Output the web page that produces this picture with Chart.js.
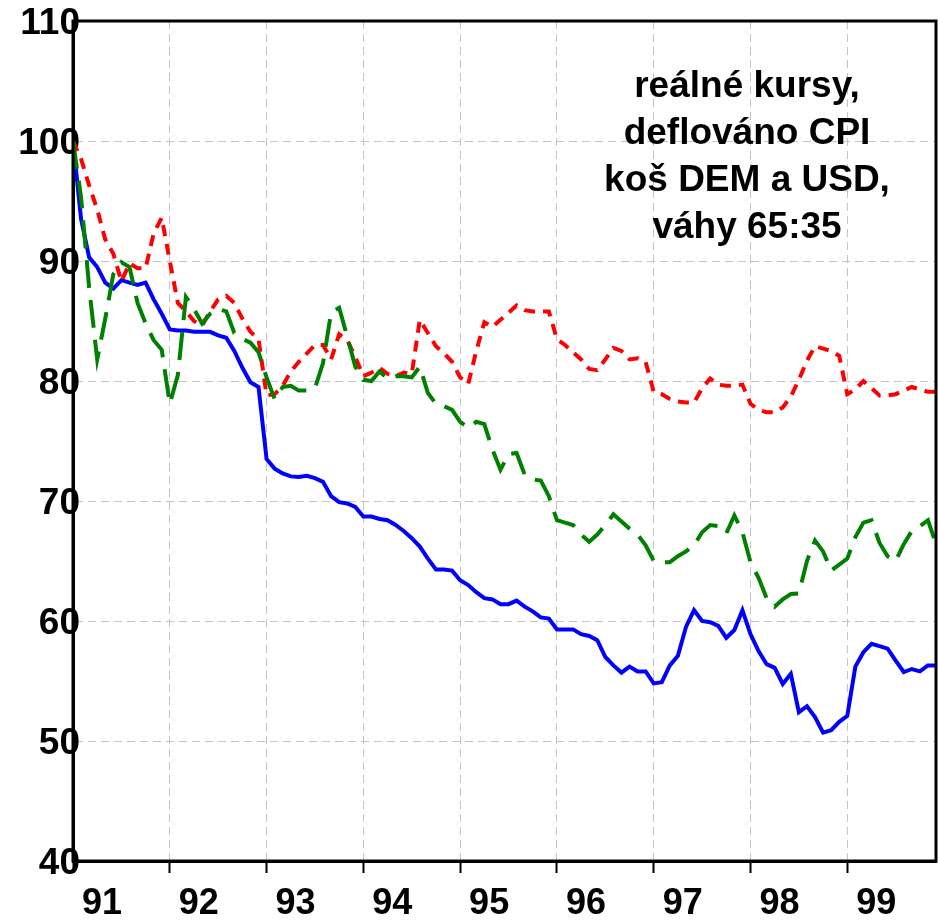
<!DOCTYPE html>
<html>
<head>
<meta charset="utf-8">
<title>Reálné kursy</title>
<script src="https://cdn.jsdelivr.net/npm/chart.js@4/dist/chart.umd.min.js"></script>
<style>
    html, body { margin: 0; padding: 0; background: #fff; }
    #myChart { display: block; }
</style>
</head>
<body>
<canvas id="myChart" width="938" height="924"></canvas>
<script>
// one value per month, Jan 1991 .. Dec 1999
const yearLabels = ["91", "92", "93", "94", "95", "96", "97", "98", "99"];

const blueValues = [
    100, 93.5, 90.3, 89.5, 88.2, 87.7, 88.4, 88.2, 88.0, 88.2, 86.8, 85.6,
    84.3, 84.2, 84.2, 84.1, 84.1, 84.1, 83.8, 83.6, 82.5, 81.1, 79.9, 79.5,
    73.5, 72.7, 72.3, 72.05, 72.0, 72.1, 71.9, 71.6, 70.4, 69.9, 69.8, 69.5,
    68.7, 68.7, 68.5, 68.4, 68.0, 67.5, 66.9, 66.2, 65.2, 64.3, 64.3, 64.2,
    63.4, 63.0, 62.4, 61.9, 61.8, 61.4, 61.4, 61.7, 61.2, 60.8, 60.3, 60.2,
    59.3, 59.3, 59.3, 58.9, 58.75, 58.4, 57.0, 56.3, 55.7, 56.2, 55.8, 55.8,
    54.8, 54.9, 56.3, 57.1, 59.5, 60.9, 60.0, 59.9, 59.6, 58.6, 59.25, 60.9,
    58.9, 57.5, 56.4, 56.1, 54.75, 55.6, 52.4, 52.9, 52.0, 50.7, 50.9, 51.6,
    52.1, 56.2, 57.4, 58.1, 57.9, 57.7, 56.7, 55.75, 56.0, 55.8, 56.3, 56.3
];

const redValues = [
    100, 98.5, 96.3, 94.3, 91.8, 90.6, 88.3, 89.8, 89.4, 89.4, 92.3, 93.6,
    90.0, 86.5, 85.8, 85.0, 84.6, 85.8, 86.8, 87.1, 86.5, 85.2, 84.1, 83.5,
    78.8, 78.9, 79.6, 80.8, 81.6, 82.3, 83.0, 83.0, 81.8, 83.9, 83.4, 82.0,
    80.4, 80.7, 81.1, 80.6, 80.4, 80.7, 80.6, 85.1, 84.0, 82.9, 82.3, 81.6,
    80.3, 79.75, 82.5, 84.9, 84.5, 85.1, 85.7, 86.3, 85.9, 85.8, 85.8, 85.8,
    83.5, 83.0, 82.4, 81.8, 81.0, 80.9, 81.8, 82.75, 82.5, 81.8, 81.9, 81.6,
    79.1, 78.9, 78.5, 78.3, 78.2, 78.2, 79.4, 80.2, 79.7, 79.6, 79.6, 79.7,
    78.1, 77.6, 77.4, 77.4, 77.8, 78.7, 80.1, 81.7, 82.9, 82.7, 82.5, 82.1,
    78.9, 79.3, 80.0, 79.4, 78.8, 78.8, 78.9, 79.2, 79.5, 79.3, 79.1, 79.1
];

const greenValues = [
    100, 95.3, 87.8, 81.8, 85.2, 88.9, 89.9, 89.5, 86.5, 84.8, 83.4, 82.6,
    78.1, 80.5, 87.0, 86.0, 84.8, 85.6, 86.0, 85.8, 84.0, 83.5, 83.2, 82.4,
    80.3, 78.5, 79.5, 79.6, 79.2, 79.2, 79.4, 81.5, 85.7, 86.1, 83.7, 81.2,
    80.1, 80.0, 80.8, 80.2, 80.4, 80.4, 80.3, 81.2, 79.0, 78.1, 77.9, 77.6,
    76.6, 76.1, 76.6, 76.4, 74.3, 72.6, 73.9, 74.0, 72.2, 71.8, 71.7, 70.4,
    68.4, 68.2, 68.0, 67.2, 66.6, 67.2, 68.0, 68.9, 68.3, 67.7, 67.2, 66.3,
    65.0, 64.9, 64.9, 65.4, 65.8, 66.3, 67.4, 68.0, 67.9, 67.3, 68.8, 67.4,
    64.9, 63.6, 61.9, 61.2, 61.8, 62.25, 62.3, 65.0, 66.7, 65.8, 64.2, 64.7,
    65.2, 67.0, 68.2, 68.4, 66.5, 65.4, 65.0, 66.4, 67.5, 67.9, 68.4, 66.4
];

const noteLines = ["reálné kursy,", "deflováno CPI", "koš DEM a USD,", "váhy 65:35"];

Chart.defaults.font.family = '"Liberation Sans", Arial, sans-serif';
Chart.defaults.color = "#000";

function toPoints(values) {
    return values.map(function (v, i) {
        return { x: i, y: v };
    });
}

// black frame round the plot and the text note in the upper right
const framePlugin = {
    id: "frame",
    afterDatasetsDraw: function (chart) {
        const ctx = chart.ctx;
        const a = chart.chartArea;
        ctx.save();
        ctx.strokeStyle = "#000";
        ctx.lineWidth = 3;
        ctx.setLineDash([]);
        ctx.strokeRect(a.left, a.top, a.right - a.left, a.bottom - a.top);

        ctx.font = 'bold 37px "Liberation Sans", Arial, sans-serif';
        ctx.fillStyle = "#000";
        ctx.textAlign = "center";
        ctx.textBaseline = "alphabetic";
        noteLines.forEach(function (line, i) {
            ctx.fillText(line, 747, 97 + i * 47);
        });
        ctx.restore();
    }
};

new Chart("myChart", {
    type: "line",
    data: {
        datasets: [
            {
                data: toPoints(greenValues),
                borderColor: "#008000",
                borderWidth: 4,
                borderDash: [28, 12],
                pointRadius: 0,
                tension: 0
            },
            {
                data: toPoints(redValues),
                borderColor: "#ff0000",
                borderWidth: 4,
                borderDash: [11, 8],
                pointRadius: 0,
                tension: 0
            },
            {
                data: toPoints(blueValues),
                borderColor: "#0000ff",
                borderWidth: 4,
                pointRadius: 0,
                tension: 0
            }
        ]
    },
    options: {
        responsive: false,
        animation: false,
        devicePixelRatio: 1,
        layout: {
            padding: { top: 21, right: 2, left: 0, bottom: 0 }
        },
        plugins: {
            legend: { display: false },
            tooltip: { enabled: false }
        },
        scales: {
            x: {
                type: "linear",
                min: 0,
                max: 107,
                afterFit: function (scale) { scale.height = 63; },
                ticks: {
                    stepSize: 12,
                    includeBounds: false,
                    autoSkip: false,
                    maxRotation: 0,
                    labelOffset: 29,
                    padding: 9,
                    font: { size: 36, weight: "bold" },
                    callback: function (value) {
                        return yearLabels[value / 12];
                    }
                },
                grid: {
                    color: "#c4c4c4",
                    lineWidth: 1,
                    tickLength: 12,
                    tickColor: "#000",
                    tickWidth: 2,
                    tickBorderDash: []
                },
                border: { color: "#000", width: 3, dash: [8, 5] }
            },
            y: {
                min: 40,
                max: 110,
                afterFit: function (scale) {
                    scale.width = 73;
                    // labels run a few pixels past the axis line, so no clipping
                    scale._computeLabelArea = function () { return undefined; };
                },
                ticks: {
                    stepSize: 10,
                    padding: -7,
                    labelOffset: 3,
                    font: { size: 37, weight: "bold" }
                },
                grid: {
                    color: "#c4c4c4",
                    lineWidth: 1,
                    drawTicks: false
                },
                border: { color: "#000", width: 3, dash: [8, 5] }
            }
        }
    },
    plugins: [framePlugin]
});
</script>
</body>
</html>
